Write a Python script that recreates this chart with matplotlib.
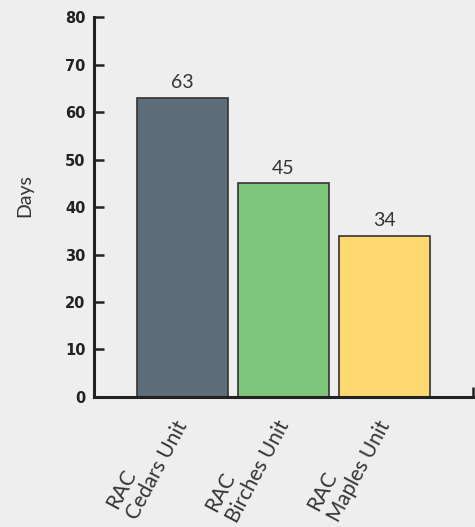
import matplotlib.pyplot as plt
import matplotlib.transforms as mtransforms
import numpy as np

units = ["RAC\nCedars Unit", "RAC\nBirches Unit", "RAC\nMaples Unit"]
days = [63, 45, 34]
colors = ["#5d6d7a", "#7dc67b", "#ffd970"]
yticks = [0, 10, 20, 30, 40, 50, 60, 70, 80]

fig = plt.figure(figsize=(4.75, 5.27), dpi=100)
fig.patch.set_facecolor("#eeeeee")
ax = fig.add_axes([0.198, 0.2467, 0.798, 0.721])
ax.set_facecolor("none")

x = np.arange(len(units))
bars = ax.bar(x, days, width=0.9, color=colors, edgecolor="#333333", linewidth=1.2)
for b, v in zip(bars, days):
    ax.text(b.get_x() + b.get_width() / 2, v + 1.4, str(v), ha="center", va="bottom",
            fontsize=14, color="#333333", family="Lato")

ax.set_xlim(-0.876, 2.876)
ax.set_ylim(0, 80)
ax.set_yticks(yticks)
ax.set_yticklabels([str(t) for t in yticks], fontsize=10.5, fontweight="bold",
                   family="DejaVu Sans", color="#222222")
ax.tick_params(axis="y", direction="in", length=7, width=1.8, color="#222222", pad=6)

ax.set_xticks(x)
ax.set_xticklabels(units, rotation=62, ha="right", va="center", rotation_mode="anchor",
                   multialignment="left", fontsize=15, family="Lato", color="#333333")
ax.tick_params(axis="x", length=0, pad=12)
# nudge the slanted labels a little to the left
shift = mtransforms.ScaledTranslation(-7 / 72, -2 / 72, fig.dpi_scale_trans)
for lbl in ax.get_xticklabels():
    lbl.set_transform(lbl.get_transform() + shift)
# small tick at the right end of the x axis
ax.set_xticks([2.876], minor=True)
ax.tick_params(axis="x", which="minor", direction="in", length=7, width=1.8, color="#222222")

for side in ["top", "right"]:
    ax.spines[side].set_visible(False)
for side in ["left", "bottom"]:
    ax.spines[side].set_linewidth(2.2)
    ax.spines[side].set_color("#222222")

ax.set_ylabel("Days", fontsize=14, family="Lato", color="#333333")
ax.yaxis.set_label_coords(-0.161, 0.53)

fig.savefig("out.png", dpi=100, facecolor=fig.get_facecolor())
